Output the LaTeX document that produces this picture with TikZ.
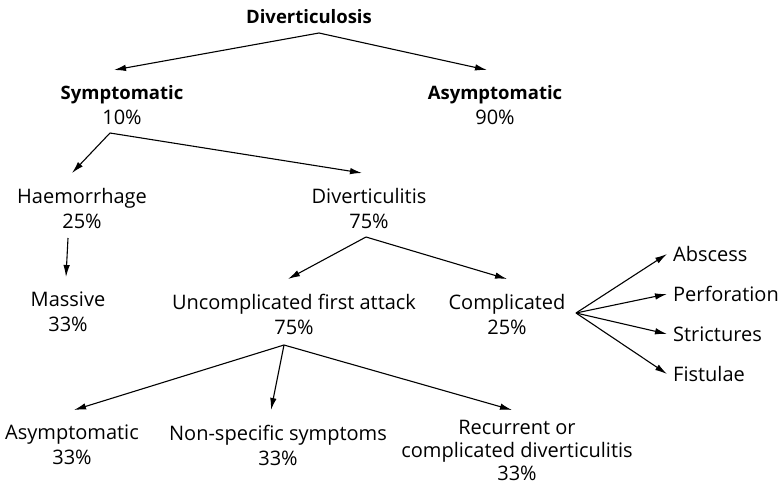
\documentclass[tikz,border=0pt]{standalone}
\usepackage{fontspec}
\setmainfont{Open Sans}
\usetikzlibrary{arrows.meta,positioning,calc}

\newcommand{\dvbold}[1]{{\fontsize{18.5}{25}\selectfont\bfseries #1}}

\begin{document}
\begin{tikzpicture}[x=1pt,y=-1pt,
  dvbranch/.style={anchor=north,align=center,inner xsep=0pt,inner ysep=15pt,
    font=\fontsize{20}{25}\selectfont},
  dvleaf/.style={anchor=west,inner xsep=6pt,inner ysep=0pt,
    font=\fontsize{20}{25}\selectfont},
  dvarrow/.style={-{Latex[length=12pt,width=6.5pt]},line width=1.1pt}
]
  \useasboundingbox (0,0) rectangle (780,485);
  % Top level
  \node[inner sep=0pt] (dvosis) at (309,17) {\dvbold{Diverticulosis}};
  \node[dvbranch] (symp) at (122,70) {\dvbold{Symptomatic}\\10\%};
  \node[dvbranch] (asymp) at (495,70) {\dvbold{Asymptomatic}\\90\%};
  % Symptomatic branch
  \node[dvbranch] (haem) at (82,173) {Haemorrhage\\25\%};
  \node[dvbranch] (ditis) at (369,173) {Diverticulitis\\75\%};
  \node[dvbranch] (massive) at (68,277) {Massive\\33\%};
  \node[dvbranch] (uncomp) at (294,279) {Uncomplicated first attack\\75\%};
  \node[dvbranch] (comp) at (507,279) {Complicated\\25\%};
  % Complications
  \node[dvleaf] (abscess) at (667,254) {Abscess};
  \node[dvleaf] (perf) at (667,294) {Perforation};
  \node[dvleaf] (strict) at (667,334) {Strictures};
  \node[dvleaf] (fistula) at (667,374) {Fistulae};
  % Outcome of first attack
  \node[dvbranch] (asymp2) at (72,410) {Asymptomatic\\33\%};
  \node[dvbranch] (nonspec) at (278,410) {Non-specific symptoms\\33\%};
  \node[dvbranch,inner ysep=0pt,font=\fontsize{20}{23}\selectfont] (recur) at (517,420) {Recurrent or\\complicated diverticulitis\\33\%};
  % Split points
  \coordinate (dvosis-split) at (319,33);
  \coordinate (symp-split) at (110,133);
  \coordinate (haem-split) at (68,238);
  \coordinate (ditis-split) at (366,237);
  \coordinate (uncomp-split) at (284,345);
  \coordinate (comp-split) at (576,313);
  % Arrows
  \draw[dvarrow] (dvosis-split) -- ([xshift=-8pt]symp.north);
  \draw[dvarrow] (dvosis-split) -- ([xshift=-8pt]asymp.north);
  \draw[dvarrow] (symp-split) -- ([xshift=-10pt]haem.north);
  \draw[dvarrow] (symp-split) -- ([xshift=-7pt]ditis.north);
  \draw[dvarrow] (haem-split) -- ([xshift=-2pt]massive.north);
  \draw[dvarrow] (ditis-split) -- ([xshift=-6pt]uncomp.north);
  \draw[dvarrow] (ditis-split) -- (comp.north);
  \draw[dvarrow] (uncomp-split) -- ([xshift=2pt]asymp2.north);
  \draw[dvarrow] (uncomp-split) -- ([xshift=-7pt]nonspec.north);
  \draw[dvarrow] (uncomp-split) -- ([xshift=-5pt,yshift=10pt]recur.north);
  \foreach \leaf in {abscess,perf,strict,fistula}
    \draw[dvarrow] (comp-split) -- (\leaf.west);
\end{tikzpicture}
\end{document}
